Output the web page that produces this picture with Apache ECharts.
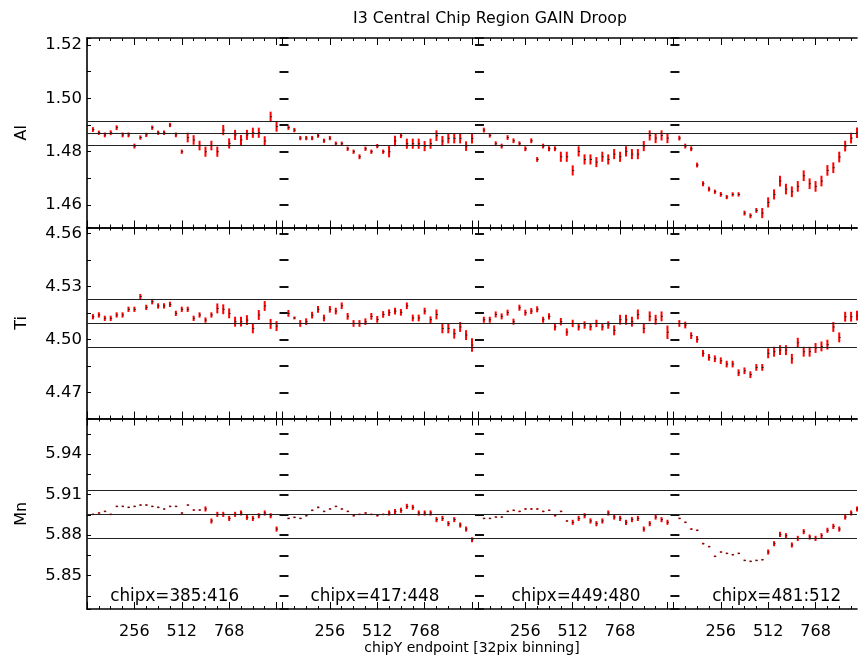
<!DOCTYPE html>
<html><head><meta charset="utf-8">
<script src="https://cdn.jsdelivr.net/npm/echarts@6/dist/echarts.min.js"></script>
<style>html,body{margin:0;padding:0;background:#fff}#c{width:858px;height:658px}</style>
</head><body><div id="c"></div>
<script>
// ---------- data ----------
const chartTitle = 'I3 Central Chip Region GAIN Droop';
const xAxisName = 'chipY endpoint [32pix binning]';
const chipxLabels = ['chipx=385:416', 'chipx=417:448', 'chipx=449:480', 'chipx=481:512'];
const elementNames = ['Al', 'Ti', 'Mn'];
const tickLabels = ['256', '512', '768'];
const binSize = 32;          // pixels per chipY bin
const binsPerGroup = 32;     // 32 bins of 32 pix = 1024

const alValues = [
 1.4883,1.4871,1.4863,1.4871,1.4890,1.4863,1.4863,1.4821,1.4853,1.4863,1.4890,1.4871,1.4871,1.4900,1.4863,1.4800,1.4853,1.4844,1.4823,1.4800,1.4823,1.4800,1.4881,1.4831,1.4863,1.4844,1.4863,1.4871,1.4871,1.4840,1.4931,1.4894,
 1.4890,1.4881,1.4851,1.4851,1.4851,1.4860,1.4841,1.4851,1.4830,1.4830,1.4811,1.4800,1.4781,1.4811,1.4800,1.4821,1.4800,1.4800,1.4840,1.4860,1.4830,1.4830,1.4830,1.4821,1.4830,1.4860,1.4840,1.4850,1.4850,1.4850,1.4821,1.4850,
 1.4881,1.4861,1.4830,1.4821,1.4853,1.4841,1.4830,1.4811,1.4841,1.4771,1.4821,1.4811,1.4811,1.4781,1.4781,1.4730,1.4801,1.4771,1.4771,1.4761,1.4781,1.4771,1.4791,1.4781,1.4801,1.4791,1.4791,1.4821,1.4861,1.4851,1.4861,1.4851,
 1.4851,1.4821,1.4811,1.4750,1.4680,1.4660,1.4650,1.4640,1.4630,1.4640,1.4640,1.4570,1.4560,1.4580,1.4570,1.4610,1.4640,1.4690,1.4660,1.4650,1.4670,1.4710,1.4680,1.4670,1.4690,1.4730,1.4740,1.4780,1.4821,1.4851,1.4871,1.4881
];
const alErrors = [
 0.0009,0.0008,0.0009,0.0009,0.0009,0.0009,0.0009,0.0009,0.0008,0.0008,0.0008,0.0008,0.0008,0.0008,0.0009,0.0008,0.0018,0.0018,0.0018,0.0019,0.0018,0.0019,0.0019,0.0019,0.0019,0.0019,0.0019,0.0019,0.0019,0.0018,0.0019,0.0019,
 0.0008,0.0008,0.0008,0.0008,0.0008,0.0008,0.0008,0.0008,0.0008,0.0008,0.0008,0.0008,0.0009,0.0008,0.0008,0.0008,0.0008,0.0021,0.0020,0.0009,0.0019,0.0019,0.0019,0.0019,0.0019,0.0020,0.0019,0.0019,0.0019,0.0019,0.0018,0.0019,
 0.0009,0.0008,0.0009,0.0009,0.0009,0.0009,0.0009,0.0009,0.0009,0.0009,0.0009,0.0009,0.0009,0.0019,0.0019,0.0019,0.0019,0.0019,0.0019,0.0019,0.0019,0.0019,0.0019,0.0019,0.0019,0.0019,0.0019,0.0019,0.0019,0.0019,0.0019,0.0019,
 0.0009,0.0009,0.0009,0.0009,0.0009,0.0009,0.0008,0.0009,0.0008,0.0008,0.0008,0.0009,0.0009,0.0009,0.0019,0.0019,0.0019,0.0020,0.0020,0.0020,0.0020,0.0020,0.0020,0.0020,0.0020,0.0020,0.0020,0.0020,0.0020,0.0020,0.0020,0.0020
];
const alLines = [1.4914, 1.4869, 1.4825];

const tiValues = [
 4.5128,4.5138,4.5119,4.5119,4.5138,4.5138,4.5170,4.5170,4.5242,4.5181,4.5213,4.5189,4.5189,4.5198,4.5147,4.5170,4.5170,4.5119,4.5138,4.5109,4.5138,4.5175,4.5170,4.5147,4.5100,4.5100,4.5109,4.5062,4.5138,4.5189,4.5087,4.5075,
 4.5147,4.5121,4.5090,4.5100,4.5137,4.5170,4.5121,4.5170,4.5160,4.5190,4.5130,4.5090,4.5090,4.5100,4.5130,4.5113,4.5141,4.5151,4.5160,4.5153,4.5190,4.5121,4.5121,4.5160,4.5111,4.5141,4.5062,4.5062,4.5032,4.5070,4.5024,4.4968,
 4.5111,4.5111,4.5141,4.5130,4.5151,4.5100,4.5179,4.5151,4.5160,4.5170,4.5111,4.5130,4.5071,4.5100,4.5041,4.5090,4.5071,4.5081,4.5071,4.5090,4.5071,4.5081,4.5051,4.5111,4.5111,4.5100,4.5141,4.5062,4.5130,4.5111,4.5130,4.5040,
 4.5090,4.5081,4.5021,4.5000,4.4921,4.4898,4.4890,4.4879,4.4860,4.4860,4.4811,4.4822,4.4800,4.4841,4.4841,4.4921,4.4930,4.4939,4.4939,4.4890,4.4981,4.4930,4.4930,4.4951,4.4960,4.4970,4.5070,4.5011,4.5128,4.5128,4.5134,4.5113
];
const tiErrors = [
 0.0015,0.0015,0.0015,0.0015,0.0015,0.0015,0.0015,0.0015,0.0015,0.0015,0.0015,0.0015,0.0015,0.0015,0.0015,0.0015,0.0015,0.0015,0.0015,0.0015,0.0015,0.0028,0.0028,0.0028,0.0028,0.0028,0.0028,0.0028,0.0028,0.0028,0.0028,0.0028,
 0.0019,0.0008,0.0019,0.0019,0.0019,0.0019,0.0019,0.0019,0.0019,0.0019,0.0019,0.0019,0.0019,0.0019,0.0019,0.0019,0.0019,0.0019,0.0019,0.0019,0.0019,0.0019,0.0019,0.0019,0.0019,0.0028,0.0028,0.0028,0.0028,0.0028,0.0028,0.0038,
 0.0017,0.0017,0.0017,0.0017,0.0017,0.0017,0.0017,0.0017,0.0017,0.0017,0.0017,0.0017,0.0021,0.0021,0.0021,0.0021,0.0021,0.0021,0.0021,0.0021,0.0021,0.0021,0.0028,0.0028,0.0028,0.0028,0.0028,0.0028,0.0028,0.0028,0.0028,0.0038,
 0.0019,0.0019,0.0019,0.0019,0.0019,0.0019,0.0019,0.0019,0.0019,0.0019,0.0019,0.0019,0.0019,0.0019,0.0019,0.0028,0.0028,0.0028,0.0028,0.0028,0.0028,0.0028,0.0028,0.0028,0.0028,0.0028,0.0028,0.0028,0.0028,0.0028,0.0028,0.0028
];
const tiLines = [4.5226, 4.5091, 4.4956];

const mnValues = [
 5.8953,5.8963,5.8975,5.8953,5.9012,5.9012,5.9005,5.9012,5.9022,5.9022,5.9012,5.9005,5.8993,5.9012,5.9012,5.8963,5.9022,5.8985,5.8985,5.8993,5.8904,5.8953,5.8953,5.8923,5.8953,5.8963,5.8931,5.8923,5.8943,5.8963,5.8943,5.8844,
 5.8923,5.8931,5.8923,5.8943,5.8983,5.9005,5.8975,5.8993,5.9012,5.8993,5.8975,5.8943,5.8953,5.8963,5.8953,5.8943,5.8953,5.8963,5.8973,5.8983,5.9012,5.9005,5.8963,5.8963,5.8963,5.8914,5.8923,5.8884,5.8914,5.8874,5.8844,5.8765,
 5.8923,5.8923,5.8933,5.8933,5.8975,5.8983,5.8975,5.8993,5.8993,5.8993,5.8975,5.8983,5.8943,5.8975,5.8904,5.8894,5.8923,5.8943,5.8904,5.8884,5.8904,5.8963,5.8933,5.8923,5.8894,5.8914,5.8923,5.8844,5.8884,5.8933,5.8914,5.8894,
 5.8923,5.8894,5.8844,5.8835,5.8736,5.8714,5.8642,5.8674,5.8664,5.8654,5.8664,5.8612,5.8605,5.8612,5.8617,5.8674,5.8736,5.8805,5.8795,5.8726,5.8775,5.8825,5.8785,5.8775,5.8795,5.8835,5.8864,5.8844,5.8933,5.8963,5.8993,5.8953
];
const mnErrors = [
 0.0006,0.0006,0.0006,0.0006,0.0006,0.0006,0.0006,0.0006,0.0006,0.0006,0.0006,0.0006,0.0006,0.0006,0.0006,0.0006,0.0006,0.0006,0.0006,0.0019,0.0019,0.0019,0.0019,0.0019,0.0019,0.0019,0.0019,0.0019,0.0019,0.0019,0.0019,0.0019,
 0.0006,0.0006,0.0006,0.0006,0.0006,0.0006,0.0006,0.0006,0.0006,0.0006,0.0006,0.0006,0.0006,0.0006,0.0006,0.0006,0.0006,0.0019,0.0019,0.0019,0.0019,0.0019,0.0019,0.0019,0.0019,0.0019,0.0019,0.0019,0.0019,0.0019,0.0019,0.0019,
 0.0006,0.0006,0.0006,0.0006,0.0006,0.0006,0.0006,0.0006,0.0006,0.0006,0.0006,0.0006,0.0006,0.0006,0.0006,0.0019,0.0019,0.0019,0.0019,0.0019,0.0019,0.0019,0.0019,0.0019,0.0019,0.0019,0.0019,0.0019,0.0019,0.0019,0.0019,0.0019,
 0.0006,0.0006,0.0006,0.0006,0.0006,0.0006,0.0006,0.0006,0.0006,0.0006,0.0006,0.0006,0.0006,0.0006,0.0006,0.0019,0.0019,0.0019,0.0019,0.0019,0.0019,0.0019,0.0019,0.0019,0.0019,0.0019,0.0019,0.0019,0.0019,0.0019,0.0019,0.0019
];
const mnLines = [5.9130, 5.8953, 5.8776];

// ---------- layout ----------
const FONT = 'DejaVu Sans';
const gridLeft = 87, gridRight = 1, chartW = 858;
const nGroups = chipxLabels.length;
const slotsPerGroup = binsPerGroup + 1;             // one empty bin between groups
const nSlots = nGroups * slotsPerGroup - 1;         // slots 0..131
const categories = [];
for (let i = 0; i < nSlots; i++) categories.push('s' + i);
const slotW = (chartW - gridLeft - gridRight) / (nSlots - 1);

const panels = [
  { name: 'Al', values: alValues, errors: alErrors, lines: alLines, min: 1.4516, max: 1.5226, major: 0.02, minor: 0.01, top: 38, height: 189.5 },
  { name: 'Ti', values: tiValues, errors: tiErrors, lines: tiLines, min: 4.4552, max: 4.5633, major: 0.03, minor: 0.015, top: 227.5, height: 191 },
  { name: 'Mn', values: mnValues, errors: mnErrors, lines: mnLines, min: 5.8252, max: 5.9663, major: 0.03, minor: 0.015, top: 418.5, height: 190.5 }
];

const grids = [], xAxes = [], yAxes = [], series = [];
const inGroup = i => i % slotsPerGroup;

panels.forEach((p, pi) => {
  const last = pi === panels.length - 1;
  grids.push({ left: gridLeft, right: gridRight, top: p.top, height: p.height });

  const mk = (pos, kind) => ({
    type: 'category', gridIndex: pi, position: pos, data: categories, boundaryGap: false,
    axisLine: { show: kind === 'major', lineStyle: { color: '#000', width: 1.6 } },
    axisTick: {
      show: true, inside: true, length: kind === 'major' ? 7 : 3,
      interval: kind === 'major' ? (i => inGroup(i) % 8 === 0) : (i => inGroup(i) % 2 === 0),
      lineStyle: { color: '#000', width: 1 }
    },
    axisLabel: {
      show: last && pos === 'bottom' && kind === 'major',
      interval: i => [8, 16, 24].indexOf(inGroup(i)) >= 0,
      formatter: (v, i) => tickLabels[inGroup(i) / 8 - 1] || '',
      color: '#000', fontFamily: FONT, fontSize: 16, margin: 15
    },
    splitLine: { show: false },
    name: (last && pos === 'bottom' && kind === 'major') ? xAxisName : '',
    nameLocation: 'middle', nameGap: 30,
    nameTextStyle: { color: '#000', fontFamily: FONT, fontSize: 14 }
  });
  const xMain = xAxes.length;
  xAxes.push(mk('bottom', 'major'));
  xAxes.push(mk('bottom', 'minor'));
  xAxes.push(mk('top', 'major'));
  xAxes.push(mk('top', 'minor'));

  const base = { type: 'value', gridIndex: pi, min: p.min, max: p.max, splitLine: { show: false } };
  const yMain = yAxes.length;
  // labels + name
  yAxes.push(Object.assign({}, base, {
    position: 'left', minInterval: p.major, maxInterval: p.major,
    axisLine: { show: false }, axisTick: { show: false },
    axisLabel: { color: '#000', fontFamily: FONT, fontSize: 16.5, margin: 5, showMinLabel: false, showMaxLabel: false,
                 formatter: v => v.toFixed(2) },
    name: p.name, nameLocation: 'middle', nameRotate: 90, nameGap: 57,
    nameTextStyle: { color: '#000', fontFamily: FONT, fontSize: 16 }
  }));
  // left frame with small ticks
  yAxes.push(Object.assign({}, base, {
    position: 'left', minInterval: p.minor, maxInterval: p.minor,
    axisLine: { show: true, lineStyle: { color: '#000', width: 1.6 } },
    axisTick: { show: true, inside: true, length: 4, lineStyle: { color: '#000', width: 1 } },
    axisLabel: { show: false }
  }));
  // group separators: tick dashes at each group boundary
  for (let g = 1; g < nGroups; g++) {
    const sepSlot = g * slotsPerGroup - 0.5;
    yAxes.push(Object.assign({}, base, {
      position: 'left', offset: -sepSlot * slotW, minInterval: p.minor, maxInterval: p.minor,
      axisLine: { show: false },
      axisTick: { show: true, inside: true, length: 9, lineStyle: { color: '#111', width: 2 } },
      axisLabel: { show: false }
    }));
  }

  const data = p.values.map((v, i) => [Math.floor(i / binsPerGroup) * slotsPerGroup + (i % binsPerGroup) + 1, v, p.errors[i]]);
  series.push({
    type: 'custom', name: p.name, xAxisIndex: xMain, yAxisIndex: yMain, data: data,
    encode: { x: 0, y: 1 }, silent: true,
    renderItem: (params, api) => {
      const x = api.value(0), v = api.value(1), e = api.value(2);
      const t = api.coord([x, v + e]), b = api.coord([x, v - e]), m = api.coord([x, v]);
      return { type: 'group', children: [
        { type: 'rect', shape: { x: t[0] - 1, y: t[1], width: 2, height: Math.max(b[1] - t[1], 1.5) }, style: { fill: '#ff0000' } },
        { type: 'rect', shape: { x: m[0] - 0.5, y: m[1] - 0.5, width: 2, height: 1 }, style: { fill: '#222' } }
      ] };
    },
    markLine: {
      silent: true, symbol: 'none', animation: false, precision: 6,
      label: { show: false },
      lineStyle: { color: '#222', width: 1.2, type: 'solid' },
      data: p.lines.map(y => ({ yAxis: y }))
    },
    z: 3
  });
});

const groupCentersPx = [174.7, 375, 576, 776.7];
const graphics = chipxLabels.map((t, g) => ({
  type: 'text', x: groupCentersPx[g], y: 597,
  style: { text: t, font: '16.8px "DejaVu Sans"', fill: '#000', textAlign: 'center', textVerticalAlign: 'middle' }
}));

const chart = echarts.init(document.getElementById('c'), null, { renderer: 'canvas' });
chart.setOption({
  animation: false,
  backgroundColor: '#fff',
  textStyle: { fontFamily: FONT },
  title: { text: chartTitle, left: 348, top: 6, textStyle: { fontFamily: FONT, fontSize: 15.8, fontWeight: 'normal', color: '#000' } },
  grid: grids, xAxis: xAxes, yAxis: yAxes, series: series, graphic: graphics
});
</script></body></html>
